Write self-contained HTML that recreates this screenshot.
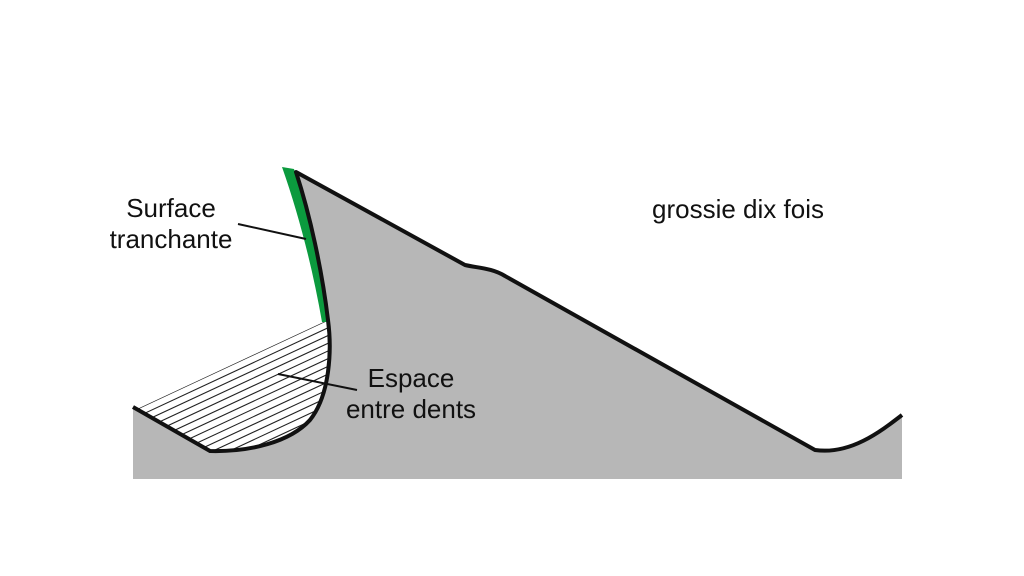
<!DOCTYPE html>
<html><head><style>body{margin:0;background:#fff}svg{display:block}</style></head><body>
<svg width="1024" height="576" viewBox="0 0 1024 576" xmlns="http://www.w3.org/2000/svg">
<defs>
<clipPath id="gap"><path d="M135,410 L328,320 C332,350 330,395 310,420 C290,442 250,452 210,451 Z"/></clipPath>
</defs>
<path d="M133,407 L210,451 C250,452 290,442 310,420 C330,395 332,350 328,320 C322,270 310,215 296,172 L465,265 C478,268 492,268 505,276 L815,450 C850,455 880,432 902,415 L902,479 L133,479 Z" fill="#b7b7b7"/>
<path d="M135,410 L328,320 C332,350 330,395 310,420 C290,442 250,452 210,451 Z" fill="#fff"/>
<g clip-path="url(#gap)" stroke="#222" stroke-width="1.1">
<g transform="rotate(-25 230 400)">
<line x1="0" y1="362" x2="500" y2="362"/><line x1="0" y1="369" x2="500" y2="369"/><line x1="0" y1="376" x2="500" y2="376"/><line x1="0" y1="383" x2="500" y2="383"/><line x1="0" y1="390" x2="500" y2="390"/><line x1="0" y1="397" x2="500" y2="397"/><line x1="0" y1="404" x2="500" y2="404"/><line x1="0" y1="411" x2="500" y2="411"/><line x1="0" y1="418" x2="500" y2="418"/><line x1="0" y1="425" x2="500" y2="425"/><line x1="0" y1="432" x2="500" y2="432"/><line x1="0" y1="439" x2="500" y2="439"/><line x1="0" y1="446" x2="500" y2="446"/><line x1="0" y1="453" x2="500" y2="453"/><line x1="0" y1="460" x2="500" y2="460"/><line x1="0" y1="467" x2="500" y2="467"/><line x1="0" y1="474" x2="500" y2="474"/>
</g></g>
<path d="M282,167 L294,169 C309,215 321,270 329,322 L322,322 C313,270 299,215 282,167 Z" fill="#0b9a3e"/>
<path d="M133,407 L210,451 C250,452 290,442 310,420 C330,395 332,350 328,320 C322,270 310,215 296,172 L465,265 C478,268 492,268 505,276 L815,450 C850,455 880,432 902,415" fill="none" stroke="#111" stroke-width="4" stroke-linejoin="round"/>
<line x1="238" y1="224" x2="306" y2="239" stroke="#111" stroke-width="2"/>
<line x1="278" y1="374" x2="357" y2="390" stroke="#111" stroke-width="2"/>
<g font-family="Liberation Sans, sans-serif" font-size="26" fill="#111">
<text x="171" y="217" text-anchor="middle">Surface</text>
<text x="171" y="248" text-anchor="middle">tranchante</text>
<text x="411" y="387" text-anchor="middle">Espace</text>
<text x="411" y="418" text-anchor="middle">entre dents</text>
<text x="738" y="218" text-anchor="middle">grossie dix fois</text>
</g>
</svg>
</body></html>
